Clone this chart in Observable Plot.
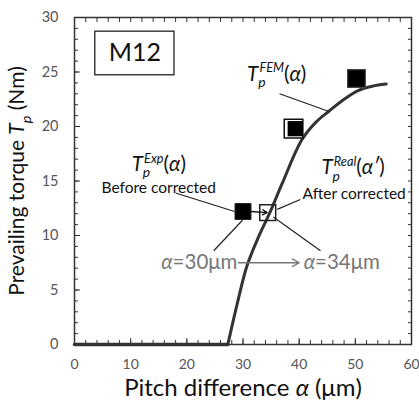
<!DOCTYPE html>
<html><head><meta charset="utf-8">
<script src="https://cdn.jsdelivr.net/npm/d3@7"></script>
<script src="https://cdn.jsdelivr.net/npm/@observablehq/plot@0.6"></script>
<style>body{margin:0;background:#fff;} #chart{width:419px;height:402px;}</style>
</head><body><div id="chart"></div>
<script>
// ---- data ----
const xTicks = [0, 10, 20, 30, 40, 50, 60];
const yTicks = [0, 5, 10, 15, 20, 25, 30];
const xMinor = [0,2,4,6,8,10,12,14,16,18,20,22,24,26,28,30,32,34,36,38,40,42,44,46,48,50,52,54,56,58,60];
const yMinor = [0,1,2,3,4,5,6,7,8,9,10,11,12,13,14,15,16,17,18,19,20,21,22,23,24,25,26,27,28,29,30];

const flatX = [0, 27.3];
const flatY = [0, 0];
const femX = [27.3, 29, 30.7, 32.7, 34.7, 37, 40.5, 43, 45.3, 48, 50.5, 53, 55.5];
const femY = [0, 3.8, 7.2, 9.8, 12, 14.8, 18.8, 20.4, 21.4, 22.5, 23.3, 23.7, 23.9];

const expX = [30];      const expY = [12.2];
const topX = [50.2];    const topY = [24.4];
const realX = [34.4];   const realY = [12.1];
const midX = [39.0];    const midY = [19.8];

// leader lines [x1, y1, x2, y2]
const leadX1 = [36.5, 18.0, 36.1, 24.8, 35.4];
const leadY1 = [23.0, 13.9, 12.4, 8.6, 11.7];
const leadX2 = [45.2, 28.5, 40.2, 29.9, 43.8];
const leadY2 = [21.4, 12.2, 13.3, 11.4, 8.6];

// annotation texts
const noteText = ["*T*_{p}^{FEM}(*α*)", "*T*_{p}^{Exp}(*α*)", "Before corrected", "*T*_{p}^{Real}(*α′*)", "After corrected"];
const noteX = [36.0, 15.0, 15.0, 49.6, 49.8];
const noteY = [24.8, 16.5, 14.4, 16.2, 13.8];
const alphaText = ["*α*=30μm", "*α*=34μm"];
const alphaX = [29.0, 40.8];
const alphaY = [7.5, 7.5];
const boxLabel = ["M12"];
const boxX1 = [3.7], boxX2 = [17.8], boxY1 = [24.7], boxY2 = [28.7];

const xLabel = ["Pitch difference *α* (μm)"];
const yLabel = ["Prevailing torque *T*_{p} (Nm)"];

const idx = a => a.map((_, i) => i);
const font = "Lato, 'Open Sans', sans-serif";

const plot = Plot.plot({
  width: 419, height: 402,
  marginLeft: 74, marginRight: 8, marginTop: 17, marginBottom: 58,
  style: {fontFamily: font, background: "#fff"},
  x: {domain: [0, 60]},
  y: {domain: [0, 30]},
  marks: [
    // minor ticks (inward)
    Plot.axisX({anchor: "bottom", ticks: xMinor, tickSize: -4, fill: "none", stroke: "#333", label: null}),
    Plot.axisX({anchor: "top", ticks: xMinor, tickSize: -4, fill: "none", stroke: "#333", label: null}),
    Plot.axisY({anchor: "left", ticks: yMinor, tickSize: -4, fill: "none", stroke: "#333", label: null}),
    Plot.axisY({anchor: "right", ticks: yMinor, tickSize: -4, fill: "none", stroke: "#333", label: null}),
    // major ticks with labels
    Plot.axisX({anchor: "bottom", ticks: xTicks, tickSize: -6, tickPadding: 21, fontSize: 14, fill: "#555", stroke: "#333", label: null}),
    Plot.axisY({anchor: "left", ticks: yTicks, tickSize: -6, tickPadding: 22, fontSize: 14.5, fill: "#555", stroke: "#333", label: null}),
    Plot.frame({stroke: "#333", strokeWidth: 1.5}),
    // M12 box
    Plot.rect(idx(boxLabel), {x1: i => boxX1[i], x2: i => boxX2[i], y1: i => boxY1[i], y2: i => boxY2[i], fill: "none", stroke: "#222", strokeWidth: 1.3}),
    Plot.text(idx(boxLabel), {x: i => (boxX1[i] + boxX2[i]) / 2, y: i => (boxY1[i] + boxY2[i]) / 2, text: i => boxLabel[i], fontSize: 25, fill: "#111"}),
    // curve
    Plot.line(idx(flatX), {x: i => flatX[i], y: i => flatY[i], stroke: "#333", strokeWidth: 3.5}),
    Plot.line(idx(femX), {x: i => femX[i], y: i => femY[i], stroke: "#333", strokeWidth: 3, curve: "catmull-rom"}),
    // leader lines
    Plot.link(idx(leadX1), {x1: i => leadX1[i], y1: i => leadY1[i], x2: i => leadX2[i], y2: i => leadY2[i], stroke: "#222", strokeWidth: 1.2}),
    // markers
    Plot.dot(idx(expX), {x: i => expX[i], y: i => expY[i], symbol: "square", r: 9, fill: "#000", stroke: "#222", strokeWidth: 1}),
    Plot.dot(idx(topX), {x: i => topX[i], y: i => topY[i], symbol: "square", r: 10, fill: "#000", stroke: "#444", strokeWidth: 1.2}),
    Plot.dot(idx(midX), {x: i => midX[i], y: i => midY[i], symbol: "square", r: 10.5, fill: "#fff", stroke: "#111", strokeWidth: 1.5}),
    Plot.dot(idx(midX), {x: i => midX[i] + 0.3, y: i => midY[i], symbol: "square", r: 8.6, fill: "#000"}),
    Plot.dot(idx(realX), {x: i => realX[i], y: i => realY[i], symbol: "square", r: 9, fill: "none", stroke: "#222", strokeWidth: 1.5}),
    // arrows
    Plot.arrow(idx(expX), {x1: i => expX[i] + 1.4, y1: i => expY[i], x2: i => realX[i] - 0.1, y2: i => realY[i], stroke: "#111", strokeWidth: 1.3, headLength: 6}),
    Plot.arrow([0], {x1: () => alphaX[0] + 0.2, y1: () => alphaY[0], x2: () => alphaX[1] - 0.8, y2: () => alphaY[1], stroke: "#777", strokeWidth: 1.3, headLength: 9}),
    // annotation texts
    Plot.text(idx(noteText), {x: i => noteX[i], y: i => noteY[i], text: i => noteText[i], fontSize: i => (i === 2 || i === 4) ? 15.5 : 20.5, fill: "#111"}),
    Plot.text([0], {x: () => alphaX[0], y: () => alphaY[0], text: () => alphaText[0], textAnchor: "end", fontSize: 20.5, fill: "#777"}),
    Plot.text([0], {x: () => alphaX[1], y: () => alphaY[1], text: () => alphaText[1], textAnchor: "start", fontSize: 20.5, fill: "#777"}),
    // axis titles
    Plot.text(xLabel, {frameAnchor: "bottom", textAnchor: "middle", lineAnchor: "middle", dy: 44, text: d => d, fontSize: 24, fill: "#111"}),
    Plot.text(yLabel, {frameAnchor: "left", textAnchor: "middle", lineAnchor: "middle", dx: -57, rotate: -90, text: d => d, fontSize: 21, fill: "#111"})
  ]
});

// rich text: *italic*, _{sub}, ^{sup}
function rich(el) {
  const s = el.textContent;
  if (!/[*_^]/.test(s)) return;
  let fsAttr = null, n = el;
  while (n && !fsAttr) { fsAttr = n.getAttribute && n.getAttribute("font-size"); n = n.parentNode; }
  const fs = parseFloat(fsAttr) || 18;
  el.textContent = "";
  const re = /(\*[^*]*\*|_\{[^}]*\}|\^\{[^}]*\}|[^*_^]+)/g;
  let m, off = 0, lastSubLen = 0;
  const sel = d3.select(el);
  while ((m = re.exec(s))) {
    const tok = m[0];
    let t = sel.append("tspan");
    if (tok.startsWith("*")) {
      t.text(tok.slice(1, -1)).attr("font-style", "italic");
      if (off !== 0) { t.attr("dy", -off); off = 0; }
      lastSubLen = 0;
    } else if (tok.startsWith("_{")) {
      const target = 0.3 * fs;
      t.text(tok.slice(2, -1)).attr("font-style", "italic").attr("font-size", fs * 0.68).attr("dy", target - off);
      off = target; lastSubLen = tok.length - 3;
    } else if (tok.startsWith("^{")) {
      const target = -0.42 * fs;
      t.text(tok.slice(2, -1)).attr("font-style", "italic").attr("font-size", fs * 0.62).attr("dy", target - off);
      if (lastSubLen) t.attr("dx", -0.3 * fs * lastSubLen);
      off = target; lastSubLen = 0;
    } else {
      t.text(tok);
      if (off !== 0) { t.attr("dy", -off); off = 0; }
      lastSubLen = 0;
    }
  }
}
d3.select(plot).selectAll("text").each(function() { rich(this); });
document.getElementById("chart").appendChild(plot);
</script>
</body></html>
